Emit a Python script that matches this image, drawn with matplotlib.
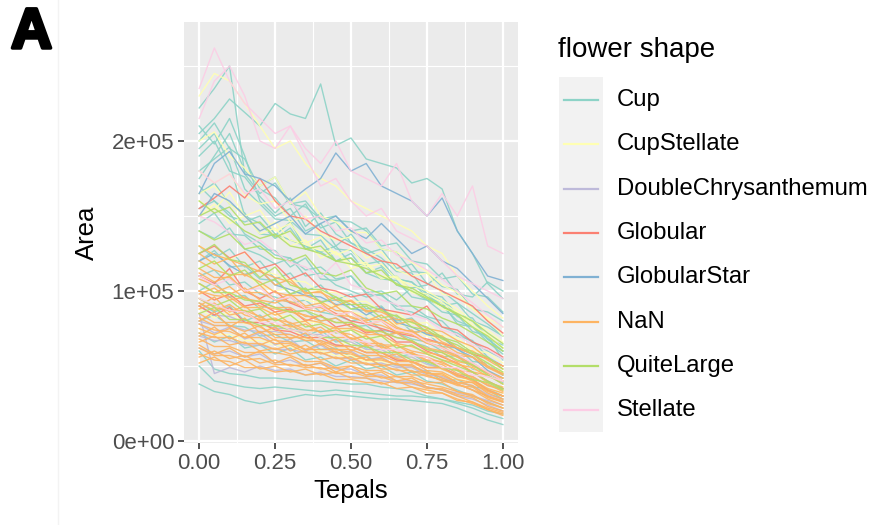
import numpy as np
import matplotlib.pyplot as plt
import matplotlib.patheffects as pe
from matplotlib.lines import Line2D
from matplotlib.patches import Rectangle
from matplotlib.ticker import FixedLocator

plt.rcParams['font.family'] = ['Liberation Sans', 'DejaVu Sans']

# tepal area per flower (units of 1e3), tepals ordered and scaled to [0, 1]
cup = [
    [205, 215, 228, 219, 210, 225, 218, 215, 238, 197, 202, 188, 185, 182, 172, 175, 168, 140, 125, 105, 95],
    [222, 235, 250, 178, 165, 172, 158, 160, 148, 150, 140, 142, 130, 132, 120, 118, 108, 110, 98, 96, 86],
    [200, 212, 195, 188, 168, 162, 150, 158, 142, 146, 132, 128, 122, 113, 112, 98, 96, 84, 82, 68, 60],
    [190, 200, 180, 176, 163, 152, 162, 143, 152, 138, 132, 126, 117, 108, 106, 96, 92, 78, 76, 66, 58],
    [180, 188, 196, 168, 158, 148, 147, 138, 137, 128, 127, 118, 120, 108, 106, 98, 94, 83, 80, 68, 64],
    [165, 172, 158, 152, 138, 137, 146, 128, 126, 130, 118, 117, 108, 107, 96, 94, 86, 84, 73, 70, 54],
    [145, 152, 138, 137, 128, 127, 116, 122, 108, 107, 110, 98, 97, 90, 90, 83, 80, 70, 67, 56, 50],
    [120, 127, 116, 117, 108, 107, 98, 100, 93, 94, 88, 87, 80, 82, 73, 72, 63, 62, 53, 52, 44],
    [100, 106, 96, 97, 88, 94, 86, 87, 80, 82, 76, 77, 70, 72, 66, 63, 56, 57, 48, 46, 39],
    [38, 33, 31, 27, 25, 27, 29, 31, 30, 31, 30, 29, 28, 28, 27, 26, 25, 22, 18, 14, 11],
    [50, 40, 38, 36, 35, 36, 35, 34, 33, 34, 33, 32, 31, 30, 30, 29, 28, 25, 22, 18, 15],
    [60, 48, 45, 44, 42, 42, 41, 40, 40, 39, 38, 38, 36, 35, 33, 30, 28, 26, 24, 20, 18],
    [170, 160, 152, 138, 132, 124, 122, 114, 116, 108, 110, 99, 100, 94, 102, 104, 112, 98, 96, 106, 100],
    [80, 84, 77, 76, 70, 71, 66, 67, 61, 62, 56, 57, 50, 51, 46, 47, 40, 41, 36, 35, 30],
    [175, 190, 205, 180, 170, 176, 158, 156, 148, 147, 146, 140, 128, 126, 113, 112, 103, 101, 88, 86, 80],
    [140, 135, 142, 128, 124, 118, 122, 110, 112, 104, 100, 96, 98, 88, 86, 82, 76, 72, 66, 60, 55],
    [110, 114, 104, 106, 98, 96, 92, 94, 86, 84, 80, 82, 74, 72, 68, 66, 60, 58, 50, 46, 40],
    [155, 160, 150, 146, 150, 138, 134, 130, 126, 120, 122, 112, 108, 110, 100, 98, 90, 92, 80, 76, 70],
    [210, 198, 215, 190, 160, 150, 155, 140, 145, 130, 138, 125, 128, 115, 118, 105, 100, 92, 85, 78, 70],
    [195, 205, 185, 150, 145, 135, 142, 128, 134, 120, 125, 112, 116, 104, 100, 94, 90, 80, 76, 68, 60],
    [130, 122, 128, 116, 120, 108, 112, 100, 104, 94, 98, 88, 90, 80, 82, 72, 70, 62, 58, 50, 44],
    [92, 86, 90, 80, 84, 76, 78, 70, 74, 66, 68, 62, 64, 56, 58, 52, 48, 44, 40, 34, 28],
    [72, 66, 70, 62, 64, 58, 62, 54, 56, 50, 54, 48, 50, 44, 46, 40, 38, 34, 30, 26, 22],
]

cup_stellate = [
    [230, 245, 240, 225, 210, 195, 200, 185, 175, 170, 160, 155, 150, 145, 140, 130, 125, 110, 100, 90, 82],
    [200, 206, 190, 182, 170, 176, 158, 166, 150, 146, 139, 139, 128, 126, 119, 113, 104, 99, 88, 81, 70],
    [160, 154, 166, 150, 140, 146, 134, 131, 127, 126, 118, 119, 110, 109, 99, 96, 88, 86, 76, 71, 62],
    [130, 124, 121, 126, 114, 111, 107, 106, 99, 99, 93, 93, 86, 86, 78, 79, 70, 69, 60, 59, 52],
    [100, 94, 99, 89, 89, 84, 83, 79, 79, 75, 74, 69, 69, 64, 63, 59, 56, 51, 49, 43, 40],
    [75, 71, 71, 67, 67, 64, 63, 59, 60, 57, 57, 53, 53, 49, 49, 45, 45, 41, 41, 35, 32],
    [180, 172, 178, 164, 158, 160, 146, 150, 138, 134, 136, 122, 126, 114, 110, 112, 98, 96, 88, 82, 76],
    [115, 120, 110, 112, 104, 100, 102, 94, 92, 90, 86, 84, 80, 78, 76, 70, 68, 62, 58, 52, 46],
    [150, 158, 145, 150, 138, 142, 130, 134, 122, 126, 115, 118, 108, 110, 100, 98, 92, 86, 78, 70, 62],
    [88, 82, 86, 78, 80, 72, 76, 68, 70, 64, 66, 60, 62, 56, 56, 50, 48, 44, 40, 34, 30],
    [165, 170, 158, 150, 154, 140, 145, 132, 136, 124, 128, 116, 118, 108, 104, 100, 94, 88, 80, 74, 66],
]

double_chrysanthemum = [
    [85, 45, 49, 46, 50, 47, 48, 44, 46, 43, 43, 42, 40, 39, 38, 36, 34, 32, 30, 27, 24],
    [80, 77, 77, 74, 73, 73, 71, 67, 67, 64, 63, 59, 59, 54, 53, 49, 49, 44, 43, 37, 35],
    [70, 67, 67, 64, 64, 61, 61, 59, 59, 55, 55, 51, 52, 49, 49, 44, 43, 39, 37, 31, 28],
    [90, 84, 83, 79, 79, 75, 75, 71, 71, 67, 66, 61, 61, 56, 56, 51, 49, 43, 41, 34, 30],
    [78, 72, 76, 68, 72, 64, 68, 60, 64, 58, 60, 54, 56, 50, 50, 46, 42, 38, 34, 30, 26],
    [62, 58, 60, 56, 58, 52, 54, 50, 52, 48, 48, 44, 44, 40, 40, 36, 34, 30, 28, 24, 20],
]

globular = [
    [155, 162, 170, 162, 175, 160, 150, 148, 140, 135, 130, 125, 120, 118, 110, 105, 100, 95, 90, 80, 72],
    [110, 105, 115, 100, 95, 100, 92, 88, 90, 85, 80, 78, 75, 72, 70, 68, 65, 62, 58, 55, 50],
    [90, 84, 89, 79, 79, 74, 73, 69, 69, 64, 63, 59, 59, 54, 53, 49, 49, 44, 41, 34, 30],
    [125, 130, 122, 126, 115, 118, 108, 112, 102, 100, 96, 98, 88, 86, 84, 90, 76, 74, 66, 62, 56],
    [100, 94, 98, 90, 92, 86, 88, 80, 84, 76, 78, 72, 74, 66, 66, 60, 56, 52, 46, 40, 35],
]

globular_star = [
    [165, 185, 193, 178, 175, 170, 160, 168, 175, 192, 180, 185, 170, 165, 160, 150, 162, 140, 125, 110, 107],
    [150, 165, 160, 150, 140, 145, 150, 138, 145, 150, 140, 135, 145, 135, 125, 130, 120, 115, 105, 95, 85],
    [120, 125, 117, 111, 114, 104, 101, 97, 96, 91, 91, 84, 89, 79, 76, 71, 69, 61, 56, 47, 42],
]

nan_shape = [
    [130, 124, 121, 117, 113, 109, 106, 99, 99, 94, 93, 87, 86, 81, 81, 75, 73, 67, 63, 55, 50],
    [115, 109, 109, 99, 99, 94, 93, 89, 89, 84, 83, 79, 77, 73, 71, 65, 63, 57, 56, 49, 45],
    [100, 97, 96, 89, 89, 84, 87, 81, 79, 75, 75, 71, 71, 65, 63, 59, 57, 51, 49, 43, 40],
    [92, 87, 91, 84, 81, 81, 79, 74, 73, 73, 71, 65, 65, 59, 59, 54, 53, 47, 46, 39, 36],
    [85, 79, 79, 79, 76, 71, 71, 67, 67, 63, 63, 59, 59, 55, 53, 49, 49, 43, 41, 35, 32],
    [78, 74, 73, 69, 73, 67, 66, 61, 61, 61, 59, 54, 55, 51, 51, 45, 45, 39, 39, 32, 28],
    [72, 69, 69, 65, 65, 61, 64, 59, 59, 55, 56, 51, 51, 47, 47, 43, 41, 37, 36, 29, 26],
    [68, 63, 63, 59, 59, 59, 57, 53, 53, 49, 50, 47, 47, 43, 43, 39, 39, 33, 31, 25, 22],
    [62, 57, 57, 54, 55, 51, 51, 49, 49, 45, 46, 43, 43, 39, 39, 35, 35, 31, 29, 23, 20],
    [58, 54, 53, 49, 49, 46, 47, 44, 45, 41, 41, 39, 39, 35, 36, 32, 32, 27, 26, 21, 18],
    [120, 114, 111, 111, 106, 99, 97, 97, 93, 87, 86, 81, 81, 75, 73, 67, 65, 59, 56, 49, 44],
    [105, 99, 103, 95, 93, 89, 89, 83, 83, 79, 79, 73, 73, 69, 67, 61, 59, 53, 51, 45, 42],
    [95, 89, 87, 87, 83, 77, 77, 73, 76, 69, 69, 64, 63, 59, 59, 53, 51, 45, 43, 37, 34],
    [82, 77, 77, 73, 77, 69, 69, 69, 66, 61, 61, 57, 57, 53, 53, 47, 46, 41, 39, 33, 30],
    [75, 71, 75, 69, 69, 65, 65, 61, 65, 59, 58, 54, 54, 51, 50, 45, 44, 39, 37, 30, 27],
    [88, 92, 84, 86, 80, 82, 76, 78, 72, 74, 68, 70, 64, 64, 60, 58, 54, 52, 46, 44, 38],
    [66, 70, 64, 66, 60, 62, 58, 60, 54, 56, 52, 52, 48, 48, 44, 44, 40, 38, 34, 30, 26],
    [98, 102, 94, 96, 90, 88, 86, 84, 80, 82, 76, 74, 70, 72, 66, 62, 60, 56, 50, 46, 42],
    [56, 60, 55, 57, 52, 54, 50, 51, 48, 49, 45, 46, 42, 43, 40, 38, 36, 33, 30, 26, 22],
    [108, 104, 98, 102, 94, 92, 96, 88, 86, 90, 82, 80, 84, 76, 72, 74, 66, 62, 60, 54, 48],
    [125, 118, 122, 110, 114, 104, 108, 98, 100, 90, 94, 86, 88, 78, 80, 72, 70, 62, 58, 50, 45],
    [80, 86, 76, 82, 72, 76, 68, 72, 64, 68, 60, 64, 56, 58, 52, 54, 48, 44, 40, 34, 30],
    [64, 58, 62, 56, 60, 52, 56, 50, 52, 46, 50, 44, 46, 40, 42, 36, 34, 30, 26, 22, 19],
    [90, 96, 86, 90, 82, 86, 78, 80, 72, 76, 68, 70, 62, 64, 58, 56, 52, 48, 42, 38, 33],
    [70, 76, 68, 72, 64, 68, 60, 64, 58, 60, 54, 56, 50, 52, 46, 46, 42, 38, 34, 28, 24],
    [112, 106, 110, 100, 104, 94, 98, 90, 92, 84, 86, 78, 80, 72, 74, 66, 62, 56, 52, 46, 40],
    [52, 56, 50, 54, 48, 50, 46, 48, 44, 46, 42, 42, 38, 40, 36, 34, 32, 28, 25, 21, 17],
]

quite_large = [
    [150, 155, 148, 140, 135, 138, 130, 128, 125, 120, 118, 115, 110, 105, 100, 95, 90, 85, 80, 72, 65],
    [125, 131, 121, 119, 109, 116, 104, 101, 101, 96, 91, 91, 87, 83, 79, 76, 69, 66, 59, 56, 48],
    [105, 99, 99, 94, 93, 89, 86, 87, 83, 79, 79, 74, 73, 69, 67, 61, 59, 54, 51, 44, 38],
    [85, 89, 81, 81, 77, 77, 74, 73, 69, 69, 64, 63, 59, 59, 54, 53, 49, 47, 41, 39, 34],
    [140, 134, 138, 128, 130, 122, 120, 124, 112, 110, 114, 102, 98, 100, 90, 88, 82, 78, 72, 66, 60],
    [115, 120, 110, 114, 104, 108, 98, 102, 92, 96, 88, 90, 82, 84, 76, 74, 68, 64, 58, 52, 46],
    [95, 90, 94, 86, 88, 80, 84, 76, 78, 72, 74, 68, 70, 62, 64, 58, 54, 50, 46, 40, 35],
    [160, 152, 156, 144, 146, 136, 140, 128, 130, 120, 122, 112, 114, 104, 102, 96, 90, 84, 76, 70, 62],
]

stellate = [
    [235, 262, 240, 225, 215, 205, 210, 195, 185, 200, 180, 175, 170, 185, 160, 150, 165, 150, 170, 130, 125],
    [215, 240, 250, 230, 200, 195, 210, 190, 170, 175, 160, 150, 155, 140, 135, 130, 120, 110, 105, 100, 95],
    [150, 146, 139, 131, 134, 126, 119, 116, 109, 119, 104, 101, 94, 91, 84, 81, 74, 71, 64, 61, 55],
    [95, 91, 87, 86, 79, 79, 74, 73, 69, 73, 67, 66, 61, 61, 57, 56, 49, 49, 44, 43, 40],
    [180, 172, 178, 165, 168, 155, 160, 148, 150, 140, 142, 132, 134, 124, 120, 114, 108, 100, 92, 84, 76],
    [110, 104, 108, 100, 102, 94, 96, 88, 90, 84, 86, 78, 80, 74, 72, 66, 62, 58, 52, 46, 40],
]

shape_names = ['Cup', 'CupStellate', 'DoubleChrysanthemum', 'Globular',
               'GlobularStar', 'NaN', 'QuiteLarge', 'Stellate']
shape_data = [cup, cup_stellate, double_chrysanthemum, globular,
              globular_star, nan_shape, quite_large, stellate]
# RColorBrewer Set3
shape_colors = ['#8DD3C7', '#FFFFB3', '#BEBADA', '#FB8072',
                '#80B1D3', '#FDB462', '#B3DE69', '#FCCDE5']

fig = plt.figure(figsize=(8.77, 5.25), dpi=100)
ax = fig.add_axes([0.2098, 0.1562, 0.3809, 0.8019])
ax.set_facecolor('#EBEBEB')

for name, flowers, color in zip(shape_names, shape_data, shape_colors):
    for area in flowers:
        area = np.array(area) * 1e3
        tepals = np.linspace(0, 1, len(area))
        ax.plot(tepals, area, color=color, lw=1.0, alpha=0.9)

ax.set_xlim(-0.05, 1.05)
ax.set_ylim(-1300, 279300)

ax.set_xticks([0, 0.25, 0.5, 0.75, 1.0])
ax.set_xticklabels(['0.00', '0.25', '0.50', '0.75', '1.00'])
ax.set_yticks([0, 1e5, 2e5])
ax.set_yticklabels(['0e+00', '1e+05', '2e+05'])
ax.xaxis.set_minor_locator(FixedLocator([0.125, 0.375, 0.625, 0.875]))
ax.yaxis.set_minor_locator(FixedLocator([0.5e5, 1.5e5, 2.5e5]))
ax.grid(True, which='major', color='white', lw=1.6)
ax.grid(True, which='minor', color='white', lw=0.8)
ax.set_axisbelow(True)
for sp in ax.spines.values():
    sp.set_visible(False)
ax.tick_params(which='major', length=4, width=1.2, color='#333333',
               labelsize=16, labelcolor='#4D4D4D', pad=3)
ax.tick_params(which='minor', length=0)

ax.set_xlabel('Tepals', fontsize=18.5, labelpad=4)
ax.set_ylabel('Area', fontsize=18.5, labelpad=9)

# legend drawn by hand, ggplot style
fig.text(558 / 877, 1 - 50 / 525, 'flower shape', fontsize=20,
         va='center', ha='left')
fig.add_artist(Rectangle((559 / 877, 1 - 432 / 525), 44 / 877, 355 / 525,
                         transform=fig.transFigure, color='#F2F2F2', lw=0))
for i, (name, color) in enumerate(zip(shape_names, shape_colors)):
    yc = 1 - (100 + 44.3 * i) / 525
    fig.add_artist(Line2D([564 / 877, 598 / 877], [yc, yc],
                          transform=fig.transFigure, color=color, lw=1.6))
    fig.text(617 / 877, yc, name, fontsize=17.2, va='center', ha='left')

fig.text(11 / 877, 1 - 33 / 525, 'A', fontsize=41, fontweight='bold',
         va='center', ha='left',
         path_effects=[pe.withStroke(linewidth=2.5, foreground='black')])
fig.add_artist(Line2D([58 / 877, 58 / 877], [0, 1], transform=fig.transFigure,
                      color='#F3F3F3', lw=1))

fig.savefig('out.png', dpi=100)
